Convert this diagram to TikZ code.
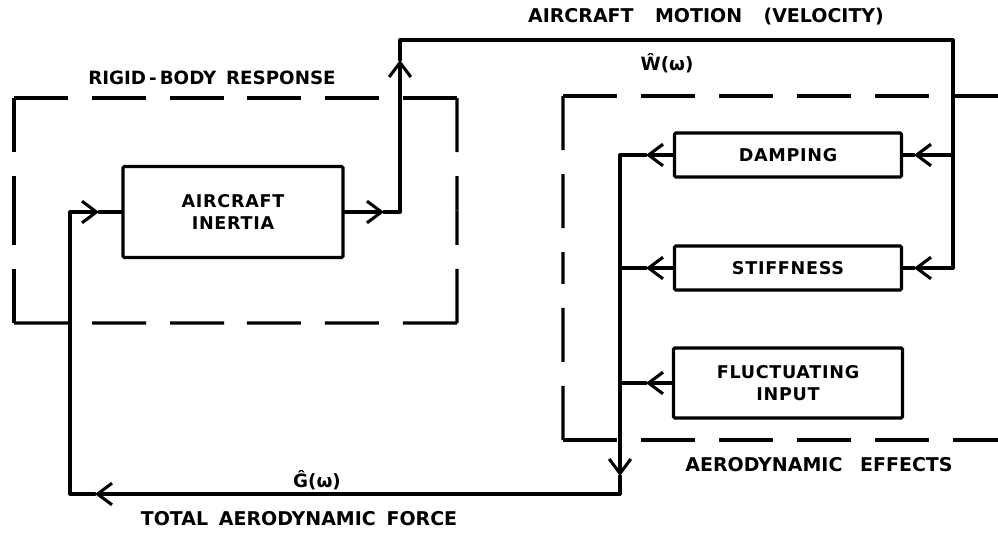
\documentclass[tikz,border=0pt]{standalone}
\usepackage{fontspec}
\setmainfont{DejaVu Sans}
\usetikzlibrary{arrows.meta,calc}
\newcommand{\spread}[3]{{\addfontfeatures{LetterSpace=#2}\makebox[#1][s]{#3}}}
\begin{document}
\begin{tikzpicture}[x=0.025cm,y=-0.025cm,
  wire/.style={line width=2.2pt,line cap=round,line join=round},
  tip/.style={wire,-{Straight Barb[length=3.6mm,width=5.4mm,line width=2.2pt]}},
  blk/.style={draw,line width=2.2pt,rounded corners=1pt,font=\bfseries\fontsize{12.5}{16}\selectfont\addfontfeatures{LetterSpace=4},align=center,inner sep=0pt},
  dbox/.style={line width=2.2pt,dash pattern=on 1.35cm off 0.6cm},
  lab/.style={font=\bfseries\fontsize{13.5}{16}\selectfont,inner sep=0pt},
  sym/.style={font=\bfseries\fontsize{13}{15}\selectfont,inner sep=0pt}]
\useasboundingbox (0,0) rectangle (998,532);
% dashed boundaries: rigid-body response
\coordinate (r1) at (14,98);
\coordinate (r2) at (457,98);
\coordinate (r3) at (457,323);
\coordinate (r4) at (14,323);
\draw[dbox] (r1) -- ($(r1)!0.5!(r2)$);
\draw[dbox] (r2) -- ($(r1)!0.5!(r2)$);
\draw[dbox] (r2) -- ($(r2)!0.5!(r3)$);
\draw[dbox] (r3) -- ($(r2)!0.5!(r3)$);
\draw[dbox] (r3) -- ($(r3)!0.5!(r4)$);
\draw[dbox] (r4) -- ($(r3)!0.5!(r4)$);
\draw[dbox] (r4) -- ($(r4)!0.5!(r1)$);
\draw[dbox] (r1) -- ($(r4)!0.5!(r1)$);
% dashed boundaries: aerodynamic effects
\coordinate (a1) at (563,96);
\coordinate (a2) at (998,96);
\coordinate (a3) at (998,440);
\coordinate (a4) at (563,440);
\draw[dbox] (a1) -- (a2);
\draw[dbox] (a4) -- (a3);
\draw[dbox] (a1) -- ($(a1)!0.5!(a4)$);
\draw[dbox] (a4) -- ($(a1)!0.5!(a4)$);
% blocks
\node[blk,minimum width=5.5cm,minimum height=2.275cm] (inertia) at (233,212) {AIRCRAFT\\INERTIA};
\node[blk,minimum width=5.675cm,minimum height=1.1cm] (damping) at (788,155) {DAMPING};
\node[blk,minimum width=5.675cm,minimum height=1.1cm] (stiff) at (788,268) {STIFFNESS};
\node[blk,minimum width=5.725cm,minimum height=1.75cm] (fluct) at (788,383) {FLUCTUATING\\INPUT};
% coordinates
\coordinate (oa) at (384,212);
\coordinate (oc) at (400,212);
\coordinate (ua) at (400,60);
\coordinate (tl) at (400,40);
\coordinate (tr) at (953,40);
\coordinate (rd) at (953,155);
\coordinate (rs) at (953,268);
\coordinate (ad) at (914,155);
\coordinate (as) at (914,268);
\coordinate (ld) at (620,155);
\coordinate (ls) at (620,268);
\coordinate (lf) at (620,383);
\coordinate (bd) at (646,155);
\coordinate (bs) at (646,268);
\coordinate (bf) at (646,383);
\coordinate (dn) at (620,476);
\coordinate (br) at (620,494);
\coordinate (la) at (95,494);
\coordinate (bl) at (70,494);
\coordinate (il) at (70,212);
\coordinate (ia) at (99,212);
% forward path
\draw[tip] (inertia.east) -- (oa);
\draw[wire] (oa) -- (oc);
\draw[tip] (oc) -- (ua);
\draw[wire] (ua) -- (tl) -- (tr) -- (rs);
\draw[tip] (rs) -- (as);
\draw[wire] (as) -- (stiff.east);
\draw[tip] (rd) -- (ad);
\draw[wire] (ad) -- (damping.east);
% outputs of aerodynamic blocks
\draw[tip] (damping.west) -- (bd);
\draw[wire] (bd) -- (ld);
\draw[tip] (stiff.west) -- (bs);
\draw[wire] (bs) -- (ls);
\draw[tip] (fluct.west) -- (bf);
\draw[wire] (bf) -- (lf);
% bus and feedback
\draw[tip] (ld) -- (dn);
\draw[wire] (dn) -- (br);
\draw[tip] (br) -- (la);
\draw[wire] (la) -- (bl) -- (il);
\draw[tip] (il) -- (ia);
\draw[wire] (ia) -- (inertia.west);
% labels
\node[lab] (lmotion) at (706,17) {\spread{253pt}{0}{AIRCRAFT MOTION (VELOCITY)}};
\node[sym] (lw) at (667,63) {Ŵ(ω)};
\node[lab,font=\bfseries\fontsize{13}{16}\selectfont] (lrigid) at (212,78) {\spread{176pt}{0}{RIGID\,-\,BODY RESPONSE}};
\node[lab] (laero) at (819,465) {\spread{190pt}{0}{AERODYNAMIC EFFECTS}};
\node[sym] (lg) at (317,480) {Ĝ(ω)};
\node[lab] (ltotal) at (299,519) {\spread{225pt}{0}{TOTAL AERODYNAMIC FORCE}};
\end{tikzpicture}
\end{document}
